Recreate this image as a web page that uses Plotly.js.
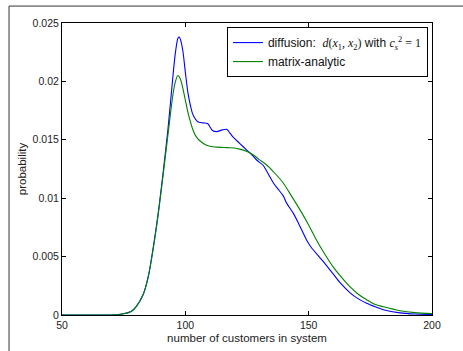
<!DOCTYPE html>
<html>
<head>
<meta charset="utf-8">
<script src="https://cdn.plot.ly/plotly-3.0.1.min.js"></script>
<style>html,body{margin:0;padding:0;background:#fff;}#chart{width:463px;height:351px;}</style>
</head>
<body>
<div id="chart"></div>
<script>
var diffusionX = [50,60,68,72,75,78,80,83,85,87,89,91,93,95,96,97,97.5,98,99,100,101,102,103,104,105,107,109,110,111,112.7,115,116.8,118,119.5,122,125,127,129,131.6,133,135.7,137.5,139.7,141,143.8,146,149.2,151,154.6,157,160,163,166.8,170,173.5,177,180.3,187,193,200];
var diffusionY = [0,0,0.000005,0.00002,0.0001,0.0003,0.0007,0.0018,0.0033,0.0058,0.0087,0.0122,0.016,0.0205,0.0225,0.0237,0.0238,0.0236,0.0226,0.0208,0.0191,0.018,0.0172,0.0168,0.01655,0.01645,0.0164,0.0161,0.0158,0.0157,0.01585,0.0159,0.0156,0.0152,0.0147,0.0141,0.0137,0.01325,0.0128,0.0123,0.0113,0.0108,0.0102,0.0096,0.0087,0.0078,0.0064,0.0058,0.0049,0.0043,0.0035,0.0027,0.0019,0.0014,0.001,0.0007,0.00045,0.00018,0.00008,0.00004];
var matrixX = [50,60,68,72,75,78,80,83,85,87,89,91,93,95,96,97,98,99,100,101,102,103,104,105,106,108,110,113,116.8,120,122,125,127.6,130,133,136,139.7,143,146.5,150,153.2,156,160,163,166.8,170,173.5,177,180.3,187,193,200];
var matrixY = [0,0,0.000005,0.00002,0.0001,0.0003,0.0007,0.0018,0.0033,0.0057,0.0086,0.012,0.0155,0.0189,0.02,0.0205,0.0202,0.0194,0.0184,0.0174,0.0166,0.0159,0.0154,0.0151,0.0149,0.0146,0.01445,0.01437,0.01433,0.0143,0.0142,0.014,0.0137,0.0133,0.01284,0.0122,0.0113,0.0102,0.009,0.0077,0.0064,0.0054,0.0041,0.0033,0.0024,0.0018,0.0013,0.0009,0.0007,0.00037,0.0002,0.00012];
var xTicks = [50,100,150,200];
var yTicks = [0,0.005,0.01,0.015,0.02,0.025];
var yTickText = ['0','0.005','0.01','0.015','0.02','0.025'];
var S = '<span style="font-family:Liberation Serif, DejaVu Serif, serif;">';
var seriesNames = ['diffusion:  ' + S + '<i>d</i>(<i>x</i><sub>1</sub>, <i>x</i><sub>2</sub>)</span> with ' + S + '<i>c</i><sub><i>s</i></sub><sup>2</sup> = 1</span>','matrix-analytic'];

var font = 'Liberation Sans, Arial, sans-serif';
var traces = [
  {x: diffusionX, y: diffusionY, type:'scatter', mode:'lines', name: seriesNames[0],
   line:{color:'#0000ff', width:1.1, shape:'spline', smoothing:0.8}},
  {x: matrixX, y: matrixY, type:'scatter', mode:'lines', name: seriesNames[1],
   line:{color:'#008000', width:1.1, shape:'spline', smoothing:0.8}}
];
var axisCommon = {showgrid:false, zeroline:false, showline:true, linecolor:'#000', linewidth:1,
  mirror:'ticks', ticks:'inside', ticklen:4, tickcolor:'#000', tickfont:{family:font, size:10.5, color:'#222'}};
var layout = {
  width:463, height:351,
  margin:{l:62, r:31, t:23, b:36, pad:0},
  paper_bgcolor:'#fff', plot_bgcolor:'#fff',
  showlegend:true,
  legend:{x:0.989, y:0.986, xanchor:'right', yanchor:'top', bordercolor:'#000', borderwidth:1,
    bgcolor:'#fff', font:{family:font, size:12, color:'#111'}, tracegroupgap:0, itemwidth:30},
  xaxis: Object.assign({}, axisCommon, {range:[50,200], tickvals:xTicks, ticktext:xTicks.map(String),
    title:{text:'number of customers in system', font:{family:font, size:11.5, color:'#222'}, standoff:4}}),
  yaxis: Object.assign({}, axisCommon, {range:[0,0.025], tickvals:yTicks, ticktext:yTickText,
    title:{text:'probability', font:{family:font, size:11.5, color:'#222'}, standoff:3}}),
  shapes:[
    {type:'line', xref:'paper', yref:'paper', x0:-0.1432, x1:-0.1432, y0:-0.13, y1:1.058, line:{color:'#333', width:1}},
    {type:'line', xref:'paper', yref:'paper', x0:-0.1432, x1:1.09, y0:1.058, y1:1.058, line:{color:'#333', width:1}}
  ]
};
Plotly.newPlot('chart', traces, layout, {displayModeBar:false, staticPlot:true});
</script>
</body>
</html>
